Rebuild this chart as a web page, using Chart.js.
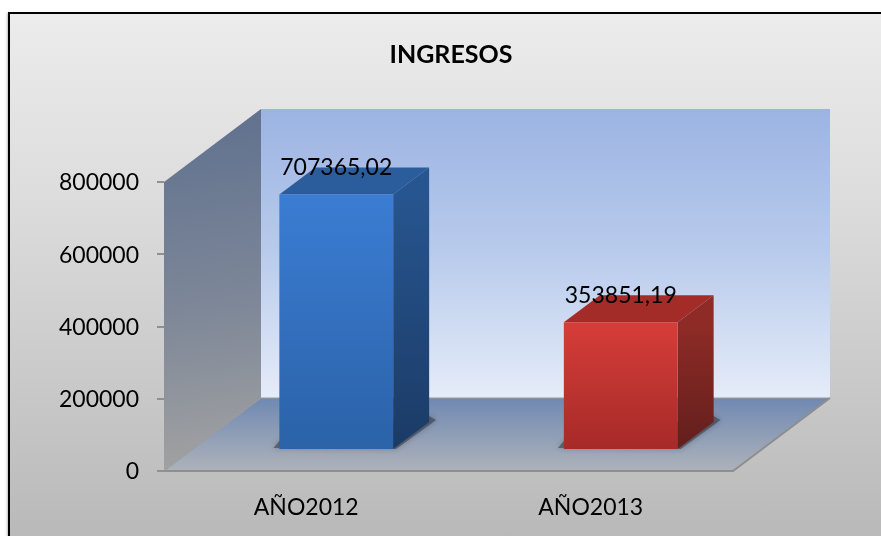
<!DOCTYPE html>
<html>
<head>
<meta charset="utf-8">
<style>
html,body{margin:0;padding:0;background:#fff;overflow:hidden;width:881px;height:536px}
#frame{position:absolute;left:8px;top:12px;width:900px;height:600px;border:2px solid #000;box-sizing:border-box;
background:linear-gradient(180deg,#ececec 0px,#dcdcdc 190px,#b9b9b9 522px);box-shadow:-1px 1px 2px #bbb}
#wrap{position:absolute;left:21px;top:14px;width:860px;height:522px}
</style>
<script src="https://cdn.jsdelivr.net/npm/chart.js@4"></script>
</head>
<body>
<div id="frame"></div>
<div id="wrap"><canvas id="c" width="860" height="522"></canvas></div>
<script>
const categories = ['AÑO2012', 'AÑO2013'];
const ingresos = [707365.02, 353851.19];
const valueLabels = ['707365,02', '353851,19'];
const titleText = 'INGRESOS';
const yTicks = [0, 200000, 400000, 600000, 800000];
const FONT = 'Lato, Carlito, sans-serif';

const barFront = [['#3b7dd4', '#2b62a8'], ['#d63d39', '#a62a28']];
const barTop = ['#2b5c9c', '#a32c29'];
const barSide = [['#27558f', '#1b3b66'], ['#8f2b27', '#621f1c']];

const WALL = {dx: 97, dy: -73};
const BAR = {sx: 30, sy: -21, dx: 36, dy: -27};

const scene = {
  id: 'scene',
  beforeDatasetsDraw(chart) {
    const {ctx} = chart;
    const x = chart.scales.x, y = chart.scales.y;
    const L = x.left, R = x.right, T = y.top, B = y.bottom;
    const poly = (pts, fill) => {
      ctx.beginPath();
      pts.forEach((p, i) => i ? ctx.lineTo(p[0], p[1]) : ctx.moveTo(p[0], p[1]));
      ctx.closePath();
      ctx.fillStyle = fill;
      ctx.fill();
    };
    const vGrad = (y0, y1, stops) => {
      const g = ctx.createLinearGradient(0, y0, 0, y1);
      stops.forEach(s => g.addColorStop(s[0], s[1]));
      return g;
    };
    const D = WALL;
    ctx.save();
    // back wall
    poly([[L + D.dx, T + D.dy], [R + D.dx, T + D.dy], [R + D.dx, B + D.dy], [L + D.dx, B + D.dy]],
      vGrad(T + D.dy, B + D.dy, [[0, '#9cb4e3'], [0.5, '#b9cbec'], [1, '#e5ecf9']]));
    // side wall
    const sg = ctx.createLinearGradient(L, T + D.dy, L + D.dx * 0.5, B);
    sg.addColorStop(0, '#5f708e');
    sg.addColorStop(0.55, '#7d8798');
    sg.addColorStop(1, '#a2a2a2');
    poly([[L, T], [L + D.dx, T + D.dy], [L + D.dx, B + D.dy], [L, B]], sg);
    // floor
    poly([[L, B], [L + D.dx, B + D.dy], [R + D.dx, B + D.dy], [R, B]],
      vGrad(B + D.dy, B, [[0, '#7089b2'], [1, '#adb2ba']]));
    // edges
    ctx.strokeStyle = '#8e8e8e';
    ctx.lineWidth = 2;
    ctx.beginPath();
    ctx.moveTo(L, B); ctx.lineTo(R, B); ctx.lineTo(R + D.dx, B + D.dy);
    ctx.stroke();
    ctx.lineWidth = 1;
    ctx.strokeStyle = '#9a9a9a';
    ctx.beginPath();
    ctx.moveTo(L, B); ctx.lineTo(L + D.dx, B + D.dy); ctx.lineTo(R + D.dx, B + D.dy);
    ctx.stroke();
    // bars shifted onto the floor
    ctx.translate(BAR.sx, BAR.sy);
    chart.getDatasetMeta(0).data.forEach((bar, i) => {
      const l = bar.x - bar.width / 2, r = bar.x + bar.width / 2, t = bar.y, b = bar.base;
      const d = BAR;
      // floor shadow
      ctx.save();
      ctx.shadowColor = 'rgba(45,50,60,0.6)';
      ctx.shadowBlur = 6;
      poly([[l - 6, b - 1], [l, b - 8], [r + d.dx, b + d.dy - 6], [r + d.dx + 7, b + d.dy - 2], [r + 3, b]], 'rgba(50,55,65,0.55)');
      ctx.restore();
      // top face
      poly([[l, t], [l + d.dx, t + d.dy], [r + d.dx, t + d.dy], [r, t]], barTop[i]);
      // side face
      poly([[r, t], [r + d.dx, t + d.dy], [r + d.dx, b + d.dy], [r, b]],
        vGrad(t, b, [[0, barSide[i][0]], [1, barSide[i][1]]]));
    });
  },
  afterDatasetsDraw(chart) {
    const {ctx} = chart;
    ctx.restore();
    ctx.save();
    ctx.fillStyle = '#000';
    ctx.font = '23px ' + FONT;
    ctx.textAlign = 'center';
    ctx.textBaseline = 'middle';
    chart.getDatasetMeta(0).data.forEach((bar, i) => {
      ctx.fillText(valueLabels[i], bar.x + BAR.sx, bar.y + BAR.sy - 27);
    });
    ctx.restore();
  }
};

new Chart(document.getElementById('c'), {
  type: 'bar',
  data: {
    labels: categories,
    datasets: [{
      data: ingresos,
      clip: false,
      barPercentage: 0.4,
      categoryPercentage: 1,
      borderWidth: 0,
      backgroundColor: (c) => {
        const i = c.dataIndex;
        const chart = c.chart;
        if (!chart.chartArea || i === undefined) return barFront[0][0];
        const y = chart.scales.y;
        const g = chart.ctx.createLinearGradient(0, y.getPixelForValue(ingresos[i]), 0, y.bottom);
        g.addColorStop(0, barFront[i][0]);
        g.addColorStop(1, barFront[i][1]);
        return g;
      }
    }]
  },
  options: {
    responsive: false,
    animation: false,
    layout: {padding: 0},
    plugins: {
      legend: {display: false},
      tooltip: {enabled: false},
      title: {
        display: true,
        text: titleText,
        color: '#000',
        font: {family: FONT, size: 25, weight: 'bold', lineHeight: 1.2},
        padding: {top: 26, bottom: 112}
      }
    },
    scales: {
      x: {
        grid: {display: false},
        border: {display: false},
        ticks: {color: '#000', font: {family: FONT, size: 23}, padding: 15, maxRotation: 0},
        afterFit(s) { s.height = 65; }
      },
      y: {
        min: 0,
        max: 800000,
        afterBuildTicks(s) { s.ticks = yTicks.map(v => ({value: v})); },
        afterFit(s) { s.width = 143; },
        grid: {drawOnChartArea: false, drawTicks: true, tickLength: 7, tickColor: '#909090', lineWidth: 2},
        border: {display: true, color: '#a0a0a0', width: 1},
        ticks: {color: '#000', font: {family: FONT, size: 23}, padding: 18, labelOffset: 1, callback: v => String(v)}
      },
      spacer: {
        type: 'linear',
        position: 'right',
        grid: {display: false},
        border: {display: false},
        ticks: {display: false},
        afterFit(s) { s.width = 148; }
      }
    }
  },
  plugins: [scene]
});
</script>
</body>
</html>
